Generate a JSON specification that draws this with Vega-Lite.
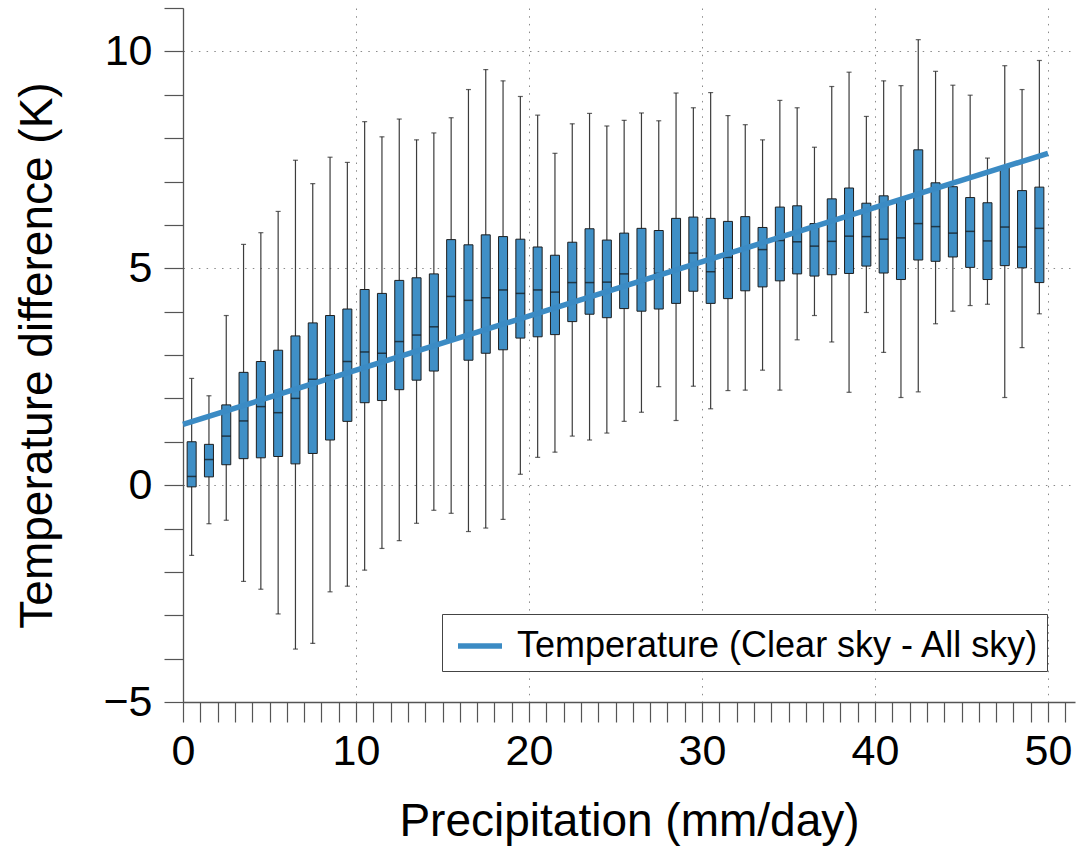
{
  "$schema": "https://vega.github.io/schema/vega-lite/v6.json",
  "width": 892,
  "height": 694,
  "autosize": "none",
  "padding": {"left": 183, "top": 8, "right": 3, "bottom": 150},
  "background": "white",
  "config": {
    "view": {"stroke": null},
    "font": "Liberation Sans",
    "axis": {
      "domainColor": "#555555",
      "domainWidth": 1.3,
      "tickColor": "#555555",
      "tickWidth": 1.2,
      "gridColor": "#8a8a8a",
      "gridDash": [1.5, 6.2],
      "gridWidth": 1,
      "labelColor": "black",
      "titleColor": "black",
      "labelFont": "Liberation Sans",
      "titleFont": "Liberation Sans",
      "labelFontSize": 43,
      "titleFontSize": 46,
      "titleFontWeight": "normal",
      "labelOverlap": false,
      "labelFlush": false,
      "labelBound": false
    },
    "legend": {
      "orient": "none",
      "legendX": 259,
      "legendY": 606,
      "symbolType": "stroke",
      "symbolStrokeWidth": 5.5,
      "symbolSize": 1936,
      "symbolOffset": 6,
      "labelFont": "Liberation Sans",
      "labelFontSize": 36,
      "labelColor": "black",
      "labelLimit": 0,
      "labelOffset": 12,
      "padding": 7,
      "strokeColor": "#444444",
      "fillColor": "white"
    }
  },
  "datasets": {
    "boxes": [
      {"p": 0.5, "lo": -1.62, "q1": -0.04, "med": 0.20, "q3": 1.00, "hi": 2.46},
      {"p": 1.5, "lo": -0.89, "q1": 0.19, "med": 0.59, "q3": 0.94, "hi": 2.06},
      {"p": 2.5, "lo": -0.81, "q1": 0.47, "med": 1.13, "q3": 1.85, "hi": 3.91},
      {"p": 3.5, "lo": -2.22, "q1": 0.61, "med": 1.48, "q3": 2.60, "hi": 5.55},
      {"p": 4.5, "lo": -2.40, "q1": 0.63, "med": 1.81, "q3": 2.85, "hi": 5.82},
      {"p": 5.5, "lo": -2.97, "q1": 0.66, "med": 1.67, "q3": 3.11, "hi": 6.31},
      {"p": 6.5, "lo": -3.78, "q1": 0.49, "med": 2.00, "q3": 3.44, "hi": 7.49},
      {"p": 7.5, "lo": -3.65, "q1": 0.73, "med": 2.44, "q3": 3.74, "hi": 6.95},
      {"p": 8.5, "lo": -2.46, "q1": 1.04, "med": 2.53, "q3": 3.91, "hi": 7.56},
      {"p": 9.5, "lo": -2.33, "q1": 1.47, "med": 2.85, "q3": 4.06, "hi": 7.44},
      {"p": 10.5, "lo": -1.96, "q1": 1.90, "med": 3.07, "q3": 4.51, "hi": 8.38},
      {"p": 11.5, "lo": -1.46, "q1": 1.95, "med": 3.04, "q3": 4.42, "hi": 8.03},
      {"p": 12.5, "lo": -1.28, "q1": 2.20, "med": 3.31, "q3": 4.72, "hi": 8.44},
      {"p": 13.5, "lo": -0.88, "q1": 2.42, "med": 3.46, "q3": 4.78, "hi": 7.96},
      {"p": 14.5, "lo": -0.58, "q1": 2.63, "med": 3.65, "q3": 4.87, "hi": 8.12},
      {"p": 15.5, "lo": -0.65, "q1": 3.35, "med": 4.35, "q3": 5.66, "hi": 8.47},
      {"p": 16.5, "lo": -1.07, "q1": 2.88, "med": 4.26, "q3": 5.54, "hi": 9.12},
      {"p": 17.5, "lo": -0.99, "q1": 3.04, "med": 4.32, "q3": 5.77, "hi": 9.58},
      {"p": 18.5, "lo": -0.79, "q1": 3.12, "med": 4.50, "q3": 5.73, "hi": 9.32},
      {"p": 19.5, "lo": 0.25, "q1": 3.39, "med": 4.42, "q3": 5.67, "hi": 8.96},
      {"p": 20.5, "lo": 0.64, "q1": 3.42, "med": 4.50, "q3": 5.49, "hi": 8.53},
      {"p": 21.5, "lo": 0.76, "q1": 3.47, "med": 4.45, "q3": 5.30, "hi": 7.65},
      {"p": 22.5, "lo": 1.13, "q1": 3.77, "med": 4.67, "q3": 5.60, "hi": 8.33},
      {"p": 23.5, "lo": 1.04, "q1": 3.94, "med": 4.67, "q3": 5.91, "hi": 8.57},
      {"p": 24.5, "lo": 1.20, "q1": 3.86, "med": 4.68, "q3": 5.65, "hi": 8.28},
      {"p": 25.5, "lo": 1.47, "q1": 4.07, "med": 4.87, "q3": 5.81, "hi": 8.41},
      {"p": 26.5, "lo": 1.68, "q1": 4.01, "med": 4.69, "q3": 5.92, "hi": 8.58},
      {"p": 27.5, "lo": 2.27, "q1": 4.06, "med": 4.88, "q3": 5.87, "hi": 8.40},
      {"p": 28.5, "lo": 1.49, "q1": 4.19, "med": 4.98, "q3": 6.15, "hi": 9.04},
      {"p": 29.5, "lo": 2.28, "q1": 4.47, "med": 5.35, "q3": 6.18, "hi": 8.70},
      {"p": 30.5, "lo": 1.76, "q1": 4.19, "med": 4.92, "q3": 6.15, "hi": 9.05},
      {"p": 31.5, "lo": 2.18, "q1": 4.30, "med": 5.25, "q3": 6.08, "hi": 8.52},
      {"p": 32.5, "lo": 2.19, "q1": 4.48, "med": 5.47, "q3": 6.19, "hi": 8.31},
      {"p": 33.5, "lo": 2.65, "q1": 4.57, "med": 5.43, "q3": 5.94, "hi": 7.96},
      {"p": 34.5, "lo": 2.19, "q1": 4.71, "med": 5.64, "q3": 6.41, "hi": 8.87},
      {"p": 35.5, "lo": 3.35, "q1": 4.87, "med": 5.61, "q3": 6.44, "hi": 8.70},
      {"p": 36.5, "lo": 3.91, "q1": 4.82, "med": 5.51, "q3": 6.03, "hi": 7.79},
      {"p": 37.5, "lo": 3.30, "q1": 4.85, "med": 5.62, "q3": 6.60, "hi": 9.19},
      {"p": 38.5, "lo": 2.14, "q1": 4.88, "med": 5.74, "q3": 6.85, "hi": 9.52},
      {"p": 39.5, "lo": 3.98, "q1": 5.05, "med": 5.73, "q3": 6.50, "hi": 8.50},
      {"p": 40.5, "lo": 3.06, "q1": 4.89, "med": 5.67, "q3": 6.67, "hi": 9.32},
      {"p": 41.5, "lo": 2.02, "q1": 4.74, "med": 5.70, "q3": 6.57, "hi": 9.21},
      {"p": 42.5, "lo": 2.15, "q1": 5.19, "med": 6.03, "q3": 7.73, "hi": 10.27},
      {"p": 43.5, "lo": 3.72, "q1": 5.16, "med": 5.96, "q3": 6.97, "hi": 9.54},
      {"p": 44.5, "lo": 4.01, "q1": 5.26, "med": 5.81, "q3": 6.88, "hi": 9.22},
      {"p": 45.5, "lo": 4.14, "q1": 5.02, "med": 5.85, "q3": 6.63, "hi": 8.99},
      {"p": 46.5, "lo": 4.17, "q1": 4.74, "med": 5.63, "q3": 6.51, "hi": 7.54},
      {"p": 47.5, "lo": 2.02, "q1": 5.06, "med": 5.95, "q3": 7.34, "hi": 9.67},
      {"p": 48.5, "lo": 3.17, "q1": 5.01, "med": 5.49, "q3": 6.79, "hi": 9.12},
      {"p": 49.5, "lo": 3.95, "q1": 4.67, "med": 5.92, "q3": 6.87, "hi": 9.79}
    ],
    "fit": [
      {"p": 0, "t": 1.40, "series": "Temperature (Clear sky - All sky)"},
      {"p": 50, "t": 7.65, "series": "Temperature (Clear sky - All sky)"}
    ]
  },
  "layer": [
    {
      "data": {"name": "boxes"},
      "mark": {"type": "rule", "color": "#3c3c3c", "strokeWidth": 1.2},
      "encoding": {
        "x": {
          "field": "p",
          "type": "quantitative",
          "scale": {"domain": [0, 51.56], "nice": false, "zero": false, "padding": 0},
          "axis": {
            "title": "Precipitation (mm/day)",
            "values": [0,1,2,3,4,5,6,7,8,9,10,11,12,13,14,15,16,17,18,19,20,21,22,23,24,25,26,27,28,29,30,31,32,33,34,35,36,37,38,39,40,41,42,43,44,45,46,47,48,49,50,51],
            "tickCount": 200,
            "format": "d",
            "tickSize": 20,
            "labelPadding": 8,
            "titlePadding": 26,
            "labelOverlap": false,
            "labelExpr": "datum.value % 10 === 0 ? datum.label : ''",
            "grid": true,
            "gridOpacity": {"condition": {"test": "datum.value % 10 === 0", "value": 1}, "value": 0},
            "encode": {"ticks": {"update": {"y2": {"signal": "datum.value % 10 === 0 ? 20 : 10"}}}}
          }
        },
        "y": {
          "field": "lo",
          "type": "quantitative",
          "scale": {"domain": [-5, 11], "nice": false, "zero": false, "padding": 0},
          "axis": {
            "title": "Temperature difference (K)",
            "values": [-5,-4,-3,-2,-1,0,1,2,3,4,5,6,7,8,9,10,11],
            "tickCount": 200,
            "format": "d",
            "tickSize": 19,
            "labelPadding": 12,
            "titlePadding": 41,
            "labelOverlap": false,
            "labelExpr": "datum.value % 5 === 0 ? datum.label : ''",
            "grid": true,
            "gridOpacity": {"condition": {"test": "datum.value % 5 === 0", "value": 1}, "value": 0},
            "encode": {"ticks": {"update": {"x2": {"signal": "datum.value % 5 === 0 ? -19 : -9"}}}}
          }
        },
        "y2": {"field": "hi"}
      }
    },
    {
      "data": {"name": "boxes"},
      "mark": {"type": "bar", "size": 9, "fill": "#3f8fc6", "stroke": "#1e1e1e", "strokeWidth": 1},
      "encoding": {
        "x": {"field": "p", "type": "quantitative"},
        "y": {"field": "q1", "type": "quantitative"},
        "y2": {"field": "q3"}
      }
    },
    {
      "data": {"name": "boxes"},
      "mark": {"type": "tick", "orient": "horizontal", "size": 5, "thickness": 1.2, "color": "#222222"},
      "encoding": {
        "x": {"field": "p", "type": "quantitative"},
        "y": {"field": "hi", "type": "quantitative"}
      }
    },
    {
      "data": {"name": "boxes"},
      "mark": {"type": "tick", "orient": "horizontal", "size": 5, "thickness": 1.2, "color": "#222222"},
      "encoding": {
        "x": {"field": "p", "type": "quantitative"},
        "y": {"field": "lo", "type": "quantitative"}
      }
    },
    {
      "data": {"name": "boxes"},
      "mark": {"type": "tick", "orient": "horizontal", "size": 9, "thickness": 1.5, "color": "#111111"},
      "encoding": {
        "x": {"field": "p", "type": "quantitative"},
        "y": {"field": "med", "type": "quantitative"}
      }
    },
    {
      "data": {"name": "fit"},
      "mark": {"type": "line", "strokeWidth": 5.5, "strokeCap": "butt"},
      "encoding": {
        "x": {"field": "p", "type": "quantitative"},
        "y": {"field": "t", "type": "quantitative"},
        "color": {
          "field": "series",
          "type": "nominal",
          "scale": {"range": ["#3b8bc4"]},
          "legend": {"title": null}
        }
      }
    }
  ]
}
